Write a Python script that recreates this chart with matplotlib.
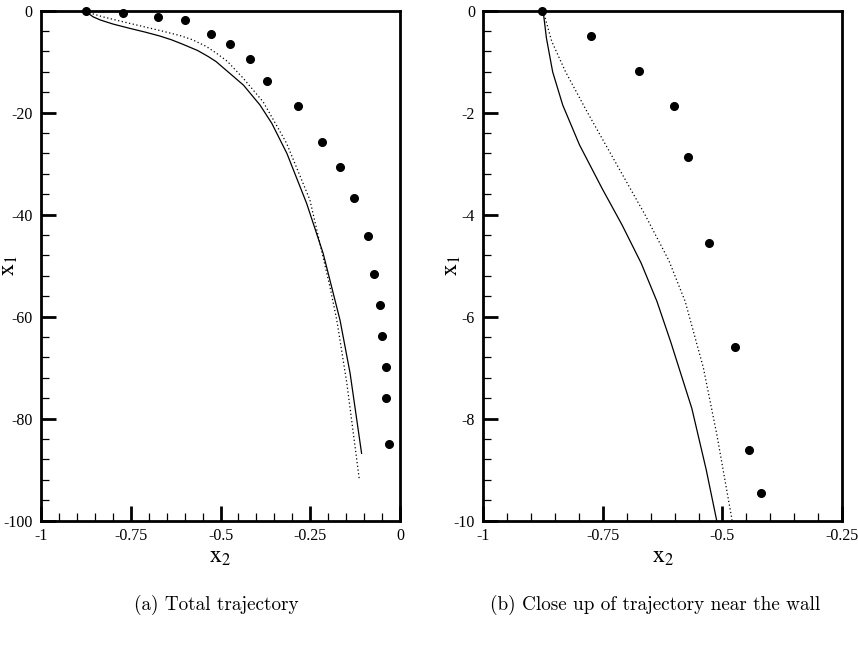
import numpy as np
import matplotlib
matplotlib.use("Agg")
import matplotlib.pyplot as plt
from matplotlib.ticker import MultipleLocator, FuncFormatter

plt.rcParams["font.family"] = ["Liberation Serif", "DejaVu Serif"]
plt.rcParams["mathtext.fontset"] = "stix"
plt.rcParams["axes.unicode_minus"] = False

# Solid trajectory (x1 downstream, x2 wall-normal)
solid_x1 = [0, -0.54, -1.2, -1.85, -2.63, -3.48, -4.2, -4.95, -5.7, -6.5, -7.8, -9.0,
            -10.0, -14.6, -18.5, -22.1, -28.0, -37.8, -47.6, -60.7, -71.1, -86.8]
solid_x2 = [-0.875, -0.868, -0.855, -0.834, -0.799, -0.752, -0.710, -0.670, -0.637, -0.608, -0.564, -0.534,
            -0.512, -0.436, -0.390, -0.357, -0.315, -0.260, -0.214, -0.167, -0.139, -0.107]

# Dotted trajectory
dotted_x1 = [0, -0.6, -1.2, -2.0, -3.0, -4.0, -4.9, -5.7, -7.0, -8.3, -9.93,
             -13.3, -17.9, -23.1, -26.0, -37.1, -54.2, -60.7, -73.1, -92.1]
dotted_x2 = [-0.875, -0.857, -0.828, -0.782, -0.722, -0.662, -0.612, -0.578, -0.540, -0.512, -0.481,
             -0.436, -0.381, -0.339, -0.316, -0.251, -0.195, -0.176, -0.148, -0.113]

# Markers, total trajectory panel
dots_a_x1 = [0, -0.5, -1.2, -1.9, -4.6, -6.5, -9.5, -13.7, -18.7, -25.7, -30.6,
             -36.7, -44.1, -51.7, -57.8, -63.8, -69.8, -75.9, -84.9]
dots_a_x2 = [-0.875, -0.772, -0.673, -0.599, -0.527, -0.473, -0.417, -0.370, -0.284, -0.216, -0.166,
             -0.127, -0.089, -0.072, -0.057, -0.050, -0.040, -0.040, -0.032]

# Markers, close-up panel
dots_b_x1 = [0, -0.5, -1.18, -1.86, -2.87, -4.56, -6.59, -8.62, -9.46]
dots_b_x2 = [-0.877, -0.775, -0.675, -0.601, -0.573, -0.529, -0.474, -0.444, -0.419]

captions = ["(a) Total trajectory", "(b) Close up of trajectory near the wall"]


def fmt(v, pos):
    return "%g" % v


fig = plt.figure(figsize=(8.58, 6.51), dpi=100)
ax_a = fig.add_axes([0.0478, 0.2002, 0.4184, 0.7834])
ax_b = fig.add_axes([0.5633, 0.2002, 0.4181, 0.7834])

setups = [
    (ax_a, dots_a_x2, dots_a_x1, (-1, 0), (-100, 0), 20, 4),
    (ax_b, dots_b_x2, dots_b_x1, (-1, -0.25), (-10, 0), 2, 0.4),
]

for ax, dx, dy, xlim, ylim, ymaj, ymin in setups:
    ax.plot(solid_x2, solid_x1, color="black", lw=0.9)
    ax.plot(dotted_x2, dotted_x1, color="black", lw=0.9, linestyle=(0, (1, 2.0)))
    ax.plot(dx, dy, "o", color="black", ms=5.5, clip_on=False, zorder=5)

    ax.set_xlim(*xlim)
    ax.set_ylim(*ylim)
    ax.xaxis.set_major_locator(MultipleLocator(0.25))
    ax.xaxis.set_minor_locator(MultipleLocator(0.05))
    ax.yaxis.set_major_locator(MultipleLocator(ymaj))
    ax.yaxis.set_minor_locator(MultipleLocator(ymin))
    ax.xaxis.set_major_formatter(FuncFormatter(fmt))
    ax.yaxis.set_major_formatter(FuncFormatter(fmt))

    ax.tick_params(which="both", direction="in", top=False, right=False,
                   labelsize=11.5, colors="black")
    ax.tick_params(axis="y", which="major", length=11, width=2, pad=6)
    ax.tick_params(axis="x", which="major", length=11, width=2, pad=5)
    ax.tick_params(which="minor", length=6, width=0.9)
    for sp in ax.spines.values():
        sp.set_linewidth(2.0)

    ax.set_xlabel(r"$\mathrm{x}_2$", fontsize=17)
    ax.set_ylabel(r"$\mathrm{x}_1$", fontsize=17)
    ax.xaxis.set_label_coords(0.5, -0.052)
    ax.yaxis.set_label_coords(-0.058, 0.5)

fig.text(0.2520, 0.070, captions[0], ha="center", va="center",
         fontfamily="cmr10", fontsize=13.8)
fig.text(0.7640, 0.070, captions[1], ha="center", va="center",
         fontfamily="cmr10", fontsize=13.8)

fig.savefig("out.png", dpi=100)
